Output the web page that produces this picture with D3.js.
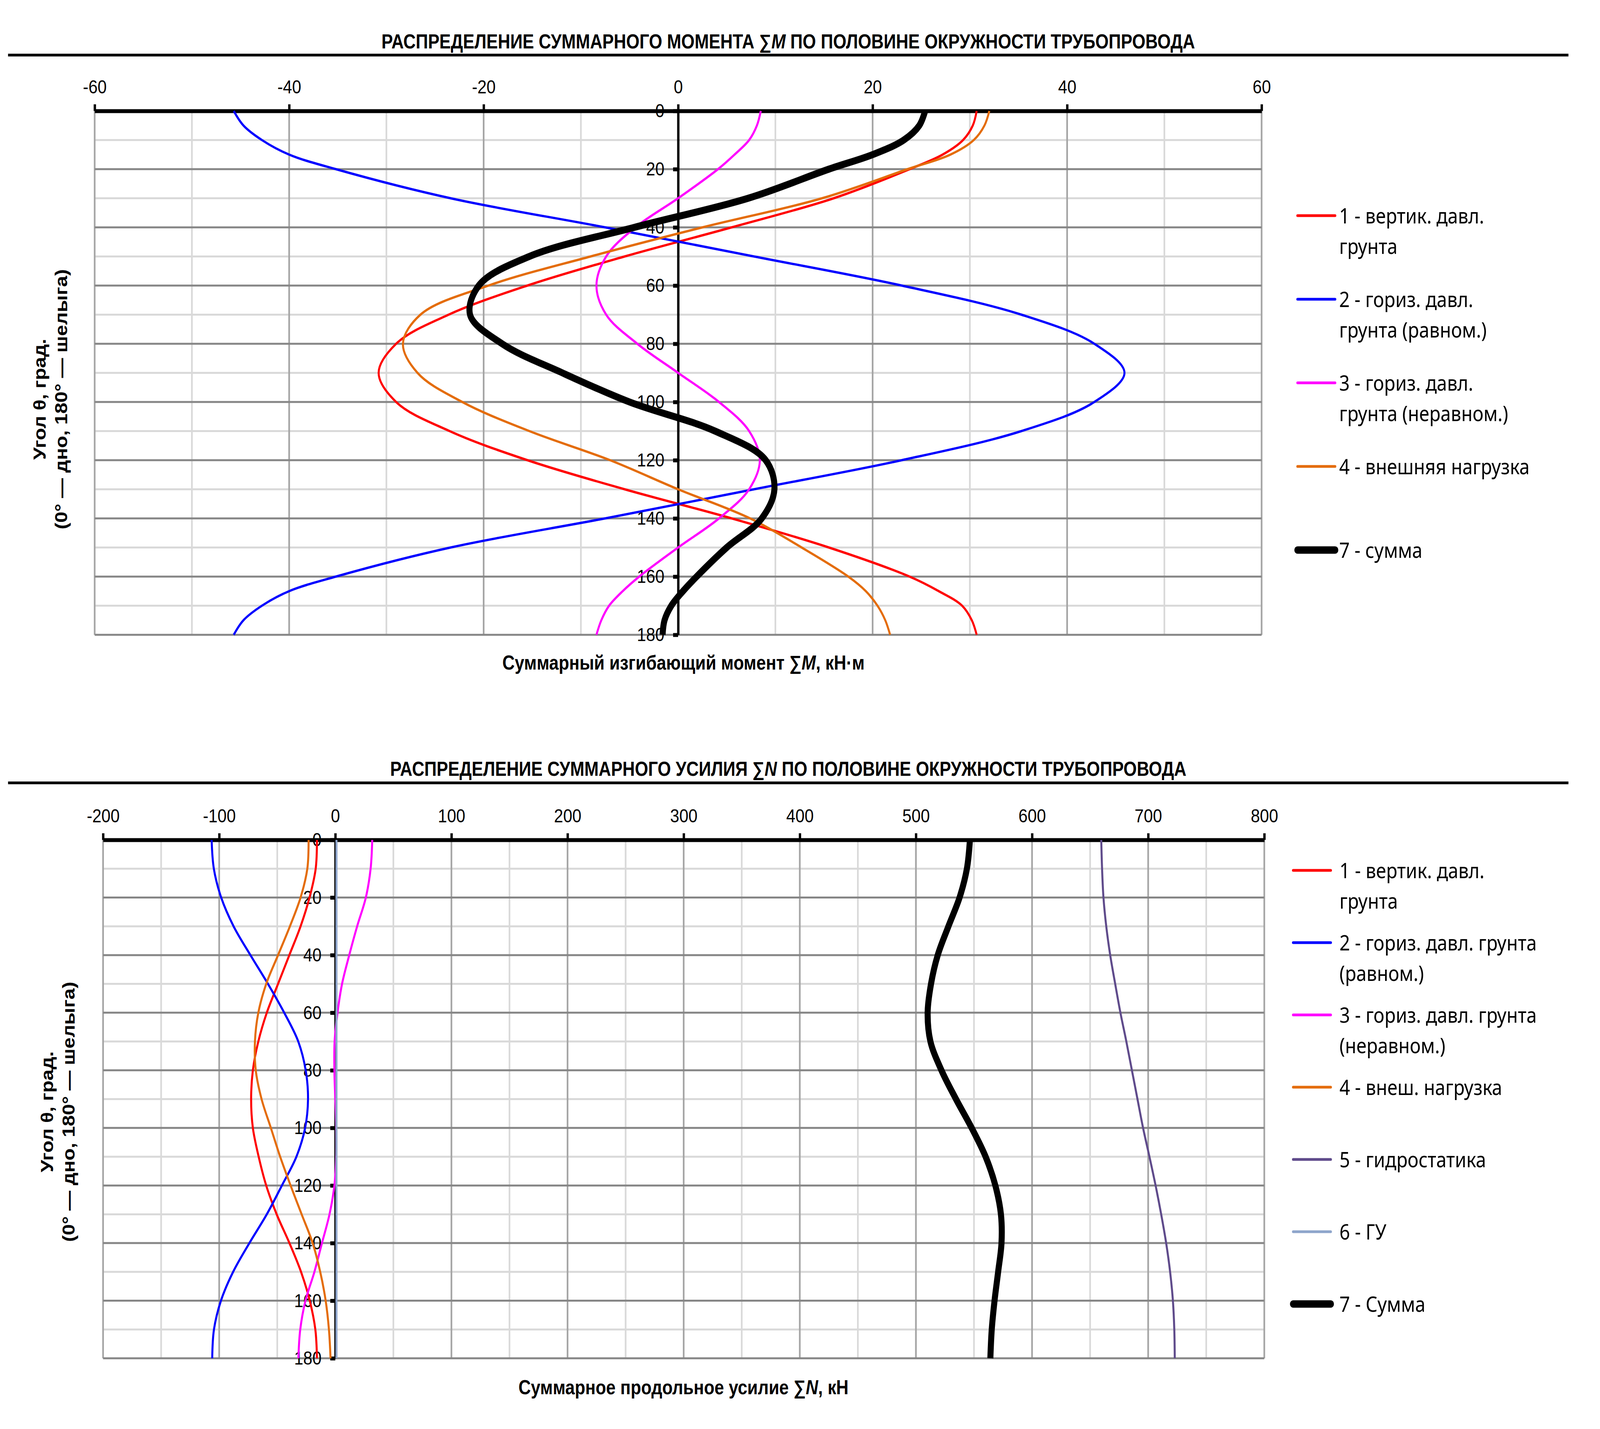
<!DOCTYPE html>
<html>
<head>
<meta charset="utf-8">
<script src="https://cdn.jsdelivr.net/npm/d3@7"></script>
<style>
  html, body { margin: 0; padding: 0; background: #fff; overflow: hidden; }
  svg { display: block; width: 100vw; height: 100vh; }
</style>
</head>
<body>
<div id="chart"></div>
<script>
const W = 4766, H = 3658;

// ---- moment ΣM, kN·m, against angle θ ----
const angleM = [0, 5, 10, 15, 20, 30, 40, 50, 60, 70, 80, 90, 100, 110, 120, 130, 140, 150, 160, 165, 170, 175, 180];
const mVert   = [30.7, 30.3, 29.3, 27.2, 23.8, 16.0, 5.5, -5.5, -15.5, -23.6, -29.0, -30.8, -29.0, -23.5, -15.5, -5.5, 5.5, 15.5, 23.8, 26.8, 29.2, 30.2, 30.7];
const mHorU   = [-45.7, -44.7, -42.8, -40.0, -35.2, -23.4, -7.5, 7.8, 23.0, 35.3, 42.8, 45.9, 42.8, 35.3, 23.0, 7.8, -7.5, -23.4, -35.2, -40.0, -42.8, -44.7, -45.7];
const mHorN   = [8.5, 8.1, 7.3, 5.8, 4.1, 0.0, -4.4, -7.4, -8.4, -7.4, -4.2, 0.0, 4.2, 7.3, 8.4, 7.3, 4.2, 0.0, -4.0, -5.7, -7.1, -7.9, -8.4];
const mLoad   = [32.0, 31.5, 30.4, 28.0, 23.6, 14.8, 2.5, -9.0, -19.5, -26.5, -28.3, -26.8, -22.2, -15.3, -7.0, 0.0, 7.4, 12.7, 17.5, 19.3, 20.5, 21.3, 21.8];
const mSum    = [25.4, 24.8, 23.2, 20.0, 15.5, 7.2, -4.5, -15.3, -20.5, -21.4, -18.1, -11.9, -5.0, 3.8, 9.0, 9.9, 8.6, 5.0, 1.9, 0.5, -0.7, -1.4, -1.6];

// ---- axial force ΣN, kN, against angle θ ----
const angleN = [0, 10, 20, 30, 40, 50, 60, 70, 80, 90, 100, 110, 120, 130, 140, 150, 160, 170, 180];
const nVert   = [-15.8, -16.9, -22.2, -29.9, -39.6, -49.3, -59.0, -66.3, -71.0, -72.5, -71.0, -66.0, -59.5, -50.5, -39.5, -29.5, -22.0, -17.2, -15.8];
const nHorU   = [-106.5, -104.6, -98.3, -87.6, -73.1, -58.0, -44.0, -31.9, -25.5, -23.5, -26.0, -33.5, -46.0, -59.0, -74.0, -88.0, -98.5, -104.5, -106.0];
const nHorN   = [31.8, 30.4, 26.3, 18.8, 12.0, 5.8, 1.9, -0.6, -0.8, 0.0, 0.8, 0.8, -0.8, -5.0, -11.5, -18.0, -25.7, -30.2, -31.8];
const nLoad   = [-23.0, -24.1, -29.9, -39.1, -49.3, -59.5, -66.3, -69.2, -68.5, -63.5, -55.5, -47.5, -38.5, -29.0, -19.5, -13.0, -8.3, -5.5, -4.1];
const nHydro  = [659.6, 660.3, 661.5, 663.9, 667.3, 671.6, 676.1, 681.2, 686.0, 690.8, 695.6, 701.1, 706.4, 711.2, 715.5, 718.9, 721.3, 722.5, 722.9];
const nGU     = [1.0, 1.0, 1.0, 1.0, 1.0, 1.0, 1.0, 1.0, 1.0, 1.0, 1.0, 1.0, 1.0, 1.0, 1.0, 1.0, 1.0, 1.0, 1.0];
const nSum    = [546.5, 543.9, 537.6, 528.0, 518.8, 513.0, 510.1, 512.5, 522.0, 534.5, 548.0, 560.0, 568.4, 573.2, 573.7, 570.8, 567.7, 565.3, 564.1];

const angleTicks = [0, 20, 40, 60, 80, 100, 120, 140, 160, 180];
const mTicks = [-60, -40, -20, 0, 20, 40, 60];
const nTicks = [-200, -100, 0, 100, 200, 300, 400, 500, 600, 700, 800];

const mLegend = [
  ['1 - вертик. давл.', 'грунта'],
  ['2 - гориз. давл.', 'грунта (равном.)'],
  ['3 - гориз. давл.', 'грунта (неравном.)'],
  ['4 - внешняя нагрузка'],
  ['7 - сумма']
];
const nLegend = [
  ['1 - вертик. давл.', 'грунта'],
  ['2 - гориз. давл. грунта', '(равном.)'],
  ['3 - гориз. давл. грунта', '(неравном.)'],
  ['4 - внеш. нагрузка'],
  ['5 - гидростатика'],
  ['6 - ГУ'],
  ['7 - Сумма']
];

const RED = '#FF0000', BLUE = '#0000FF', MAGENTA = '#FF00FF', ORANGE = '#E46C0A',
      PURPLE = '#5F4B8B', STEEL = '#8EA5CB', BLACK = '#000000';

const ARIAL = '"Liberation Sans", Arial, sans-serif';
const LEGEND_FONT = '"Noto Sans", "Open Sans", sans-serif';

// the drawing is laid out on a 4766×3658 board and stretched to the window
const svg = d3.select('#chart').append('svg')
  .attr('viewBox', `0 0 ${W} ${H}`)
  .attr('preserveAspectRatio', 'none');
svg.append('rect').attr('width', W).attr('height', H).attr('fill', '#fff');

const fmt = d => String(d);
const range = (a, b, s) => d3.range(a, b + s / 2, s);

// one panel: title, grid, axes, curves, legend
const panel = opts => {
  const {
    titleY, ruleY, title, symbol, xDomain, xRange, yRange, xTicks, xMinor,
    xLabel, xLabelY, yTitleX, yTitleY, series, angles, legend, legendY, legendStep,
    legendX, legendGap
  } = opts;

  const g = svg.append('g');
  const x = d3.scaleLinear().domain(xDomain).range(xRange);
  const y = d3.scaleLinear().domain([0, 180]).range(yRange);

  // title + rule
  const t = g.append('text')
    .attr('x', 2348).attr('y', titleY)
    .attr('text-anchor', 'middle')
    .style('font-family', ARIAL).style('font-weight', 'bold').style('font-size', '51px');
  t.append('tspan').text(title[0] + ' \u2211');
  t.append('tspan').style('font-style', 'italic').text(symbol);
  t.append('tspan').text('  ' + title[1]);

  g.append('line')
    .attr('x1', 24).attr('x2', 4672).attr('y1', ruleY).attr('y2', ruleY)
    .attr('stroke', '#000').attr('stroke-width', 7);

  // grid: minor first, then major
  const minorX = xMinor.filter(v => !xTicks.includes(v));
  const minorY = range(10, 170, 20);

  g.selectAll(null).data(minorX).enter().append('line')
    .attr('x1', x).attr('x2', x).attr('y1', yRange[0]).attr('y2', yRange[1])
    .attr('stroke', '#D9D9D9').attr('stroke-width', 5);
  g.selectAll(null).data(minorY).enter().append('line')
    .attr('x1', xRange[0]).attr('x2', xRange[1]).attr('y1', y).attr('y2', y)
    .attr('stroke', '#D9D9D9').attr('stroke-width', 5);
  g.selectAll(null).data(xTicks).enter().append('line')
    .attr('x1', x).attr('x2', x).attr('y1', yRange[0]).attr('y2', yRange[1])
    .attr('stroke', '#A5A5A5').attr('stroke-width', 5);
  g.selectAll(null).data(angleTicks).enter().append('line')
    .attr('x1', xRange[0]).attr('x2', xRange[1]).attr('y1', y).attr('y2', y)
    .attr('stroke', '#868686').attr('stroke-width', 5);

  // top x axis
  const xAxis = g.append('g')
    .attr('transform', `translate(0,${yRange[0]})`)
    .call(d3.axisTop(x).tickValues(xTicks).tickFormat(fmt).tickSize(17).tickSizeOuter(0).tickPadding(28));
  xAxis.select('.domain').attr('stroke', '#000').attr('stroke-width', 10);
  xAxis.selectAll('.tick line').attr('stroke', '#000').attr('stroke-width', 7);
  xAxis.selectAll('.tick text')
    .style('font-family', ARIAL).style('font-size', '49px').attr('fill', '#000');

  // vertical angle axis through zero
  const yAxis = g.append('g')
    .attr('transform', `translate(${x(0)},0)`)
    .call(d3.axisLeft(y).tickValues(angleTicks).tickFormat(fmt).tickSize(15).tickSizeOuter(0).tickPadding(26));
  yAxis.select('.domain').attr('stroke', '#000').attr('stroke-width', 7);
  yAxis.selectAll('.tick line').attr('stroke', '#000').attr('stroke-width', 10);
  yAxis.selectAll('.tick text')
    .style('font-family', ARIAL).style('font-size', '49px').attr('fill', '#000');

  // curves
  const line = d3.line()
    .x(d => x(d[1]))
    .y(d => y(d[0]))
    .curve(d3.curveCatmullRom.alpha(0.5));

  g.selectAll('path.series').data(series).enter().append('path')
    .attr('class', 'series')
    .attr('d', s => line(d3.zip(angles, s.values)))
    .attr('fill', 'none')
    .attr('stroke', s => s.color)
    .attr('stroke-width', s => s.width)
    .attr('stroke-linejoin', 'round');

  // x axis title
  const xl = g.append('text')
    .attr('x', 2036).attr('y', xLabelY)
    .attr('text-anchor', 'middle')
    .style('font-family', ARIAL).style('font-weight', 'bold').style('font-size', '51px');
  xl.append('tspan').text(xLabel[0] + ' \u2211');
  xl.append('tspan').style('font-style', 'italic').text(symbol);
  xl.append('tspan').text(xLabel[1]);

  // y axis title (two lines, rotated)
  const yl = g.append('text')
    .attr('transform', `translate(${yTitleX},${yTitleY}) rotate(-90)`)
    .attr('text-anchor', 'middle')
    .style('font-family', ARIAL).style('font-weight', 'bold').style('font-size', '51px');
  yl.append('tspan').attr('x', 0).attr('y', 0).text('Угол θ, град.');
  yl.append('tspan').attr('x', 0).attr('y', 64).text('(0° — дно,  180° — шелыга)');

  // legend
  const lg = g.selectAll('g.legend').data(series).enter().append('g')
    .attr('class', 'legend')
    .attr('transform', (s, i) => `translate(${legendX},${legendY + i * legendStep})`);
  lg.append('line')
    .attr('x1', 0).attr('x2', 112).attr('y1', 0).attr('y2', 0)
    .attr('stroke', s => s.color)
    .attr('stroke-width', s => s.width > 10 ? 19 : 7)
    .attr('stroke-linecap', 'round');
  lg.each(function (s, i) {
    const txt = d3.select(this).append('text')
      .style('font-family', LEGEND_FONT).style('font-size', '55px').attr('fill', '#000');
    legend[i].forEach((l, j) => {
      txt.append('tspan').attr('x', legendGap).attr('y', 20 + j * 78).text(l);
    });
  });
};

panel({
  titleY: 124, ruleY: 141,
  title: ['РАСПРЕДЕЛЕНИЕ СУММАРНОГО МОМЕНТА', 'ПО ПОЛОВИНЕ ОКРУЖНОСТИ ТРУБОПРОВОДА'],
  symbol: 'M',
  xDomain: [-60, 60], xRange: [282, 3758], yRange: [284, 1625],
  xTicks: mTicks, xMinor: range(-60, 60, 10),
  xLabel: ['Суммарный изгибающий момент', ', кН·м'], xLabelY: 1714,
  yTitleX: 136, yTitleY: 1022,
  angles: angleM,
  series: [
    {values: mVert, color: RED, width: 6},
    {values: mHorU, color: BLUE, width: 6},
    {values: mHorN, color: MAGENTA, width: 6},
    {values: mLoad, color: ORANGE, width: 6},
    {values: mSum, color: BLACK, width: 18}
  ],
  legend: mLegend, legendX: 3865, legendY: 552, legendStep: 214, legendGap: 124
});

panel({
  titleY: 1986, ruleY: 2004,
  title: ['РАСПРЕДЕЛЕНИЕ СУММАРНОГО УСИЛИЯ', 'ПО ПОЛОВИНЕ ОКРУЖНОСТИ ТРУБОПРОВОДА'],
  symbol: 'N',
  xDomain: [-200, 800], xRange: [307, 3766], yRange: [2150, 3477],
  xTicks: nTicks, xMinor: range(-200, 800, 50),
  xLabel: ['Суммарное продольное усилие', ', кН'], xLabelY: 3569,
  yTitleX: 158, yTitleY: 2846,
  angles: angleN,
  series: [
    {values: nVert, color: RED, width: 6},
    {values: nHorU, color: BLUE, width: 6},
    {values: nHorN, color: MAGENTA, width: 6},
    {values: nLoad, color: ORANGE, width: 6},
    {values: nHydro, color: PURPLE, width: 6},
    {values: nGU, color: STEEL, width: 6},
    {values: nSum, color: BLACK, width: 18}
  ],
  legend: nLegend, legendX: 3852, legendY: 2228, legendStep: 185, legendGap: 138
});
</script>
</body>
</html>
